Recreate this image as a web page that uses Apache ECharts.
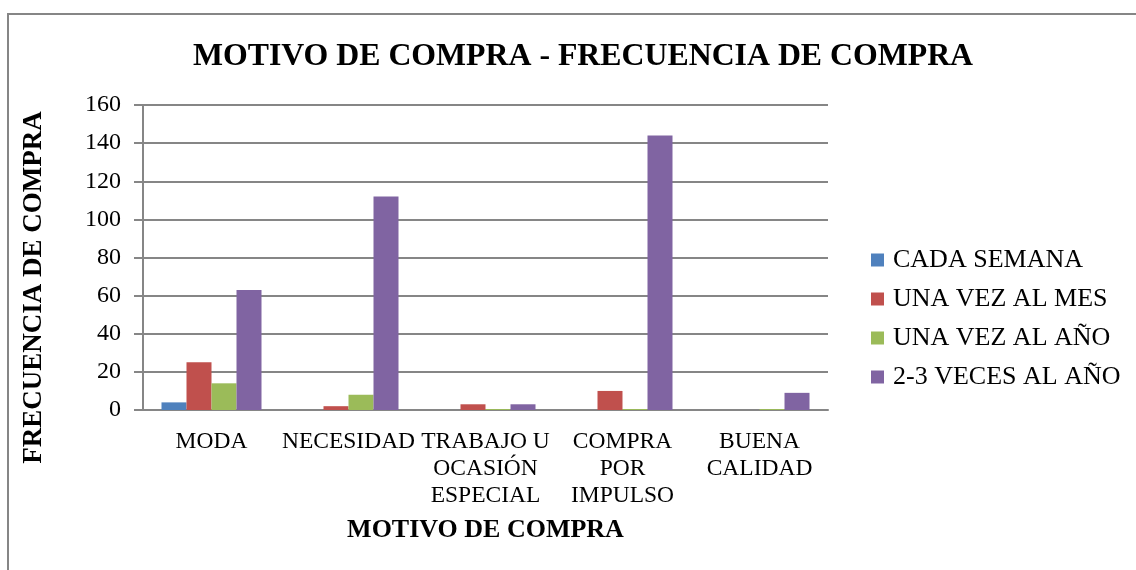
<!DOCTYPE html>
<html>
<head>
<meta charset="utf-8">
<script src="https://cdn.jsdelivr.net/npm/echarts@6/dist/echarts.min.js"></script>
<style>
html, body { margin: 0; padding: 0; background: #fff; }
#main { width: 1136px; height: 570px; }
</style>
</head>
<body>
<div id="main"></div>
<script>
var categories = ['MODA', 'NECESIDAD', 'TRABAJO U\nOCASIÓN\nESPECIAL', 'COMPRA\nPOR\nIMPULSO', 'BUENA\nCALIDAD'];
var seriesNames = ['CADA SEMANA', 'UNA VEZ AL MES', 'UNA VEZ AL AÑO', '2-3 VECES AL AÑO'];
var cadaSemana = [4, 0, 0, 0, 0];
var unaVezMes = [25, 2, 3, 10, 0];
var unaVezAno = [14, 8, 0.5, 0.5, 0.5];
var variasVecesAno = [63, 112, 3, 144, 9];
var colors = ['#4f81bd', '#c0504d', '#9bbb59', '#8064a2'];

var font = '"Liberation Serif", "Times New Roman", serif';
var chart = echarts.init(document.getElementById('main'));
var values = [cadaSemana, unaVezMes, unaVezAno, variasVecesAno];

chart.setOption({
    animation: false,
    textStyle: { fontFamily: font, color: '#000' },
    title: {
        text: 'MOTIVO DE COMPRA - FRECUENCIA DE COMPRA',
        left: 578, top: 36, textAlign: 'center',
        textStyle: { fontFamily: font, fontSize: 31.8, fontWeight: 'bold', color: '#000' }
    },
    legend: {
        orient: 'vertical',
        left: 866, top: 242,
        itemWidth: 13, itemHeight: 13, itemGap: 13,
        icon: 'rect',
        data: seriesNames,
        textStyle: { fontFamily: font, fontSize: 26, color: '#000', padding: [0, 0, 0, 4] }
    },
    grid: { left: 143, right: 308, top: 105, bottom: 160 },
    xAxis: {
        type: 'category',
        data: categories,
        name: 'MOTIVO DE COMPRA',
        nameLocation: 'middle',
        nameGap: 107,
        nameTextStyle: { fontFamily: font, fontSize: 26, fontWeight: 'bold', color: '#000' },
        axisLine: { lineStyle: { color: '#868686', width: 2 } },
        axisTick: { show: false },
        axisLabel: { fontFamily: font, fontSize: 23.5, color: '#000', lineHeight: 27, margin: 18, interval: 0 }
    },
    yAxis: {
        type: 'value',
        min: 0, max: 160, interval: 20,
        name: 'FRECUENCIA DE COMPRA',
        nameLocation: 'middle',
        nameGap: 95,
        nameTextStyle: { fontFamily: font, fontSize: 27, fontWeight: 'bold', color: '#000', padding: [0, 60, 0, 0] },
        axisLine: { show: true, lineStyle: { color: '#868686', width: 2 } },
        axisTick: { show: true, length: 9, lineStyle: { color: '#868686', width: 2 } },
        splitLine: { lineStyle: { color: '#868686', width: 2 } },
        axisLabel: { fontFamily: font, fontSize: 24, color: '#000', margin: 22 }
    },
    series: seriesNames.map(function (n, i) {
        return {
            name: n,
            type: 'bar',
            data: values[i],
            barGap: '0%',
            barCategoryGap: '27%',
            itemStyle: { color: colors[i] }
        };
    }),
    graphic: [{
        type: 'rect',
        shape: { x: 8, y: 14, width: 1140, height: 570 },
        style: { fill: null, stroke: '#868686', lineWidth: 2 },
        silent: true,
        z: -1
    }]
});
</script>
</body>
</html>
